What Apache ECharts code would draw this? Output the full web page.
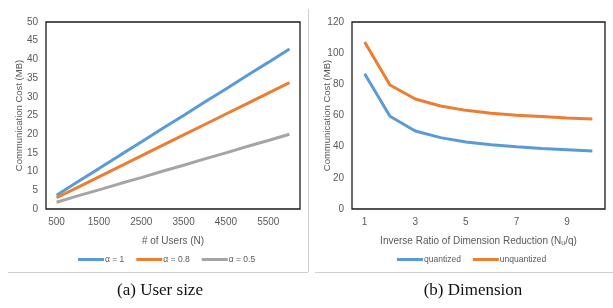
<!DOCTYPE html>
<html>
<head>
<meta charset="utf-8">
<script src="https://cdn.jsdelivr.net/npm/echarts@6/dist/echarts.min.js"></script>
<style>
  html, body { margin: 0; padding: 0; background: #fff; }
  #chart { width: 613px; height: 308px; }
</style>
</head>
<body>
<div id="chart"></div>
<script>
// panel (a): user size
const userCounts = ['500', '1000', '1500', '2000', '2500', '3000', '3500', '4000', '4500', '5000', '5500', '6000']
const alpha1 = [3.7, 7.3, 10.8, 14.4, 17.9, 21.5, 25.0, 28.6, 32.1, 35.7, 39.2, 42.8]
const alpha08 = [3.0, 5.8, 8.6, 11.4, 14.2, 17.0, 19.8, 22.6, 25.4, 28.2, 31.0, 33.8]
const alpha05 = [1.8, 3.5, 5.1, 6.8, 8.4, 10.1, 11.7, 13.4, 15.0, 16.7, 18.3, 20.0]

// panel (b): dimension
const ratios = ['1', '2', '3', '4', '5', '6', '7', '8', '9', '10']
const quantized = [86.8, 59.5, 50.1, 45.8, 43.0, 41.3, 40.0, 38.9, 38.1, 37.2]
const unquantized = [107.2, 79.6, 70.6, 66.1, 63.3, 61.4, 60.1, 59.3, 58.4, 57.8]

const BLUE = '#5B9BD5'
const ORANGE = '#ED7D31'
const GRAY = '#A5A5A5'
const TXT = '#595959'
const FONT = 'Liberation Sans, Arial, sans-serif'

const chart = echarts.init(document.getElementById('chart'))

function xAxisOf (idx, data, name, rich) {
  return {
    type: 'category',
    gridIndex: idx,
    data: data,
    boundaryGap: true,
    name: name,
    nameLocation: 'middle',
    nameGap: 27,
    nameMoveOverlap: false,
    nameTextStyle: { color: TXT, fontSize: 10, fontFamily: FONT, rich: rich },
    axisLine: { show: false },
    axisTick: { show: false },
    axisLabel: { interval: 1, color: TXT, fontSize: 10, fontFamily: FONT, margin: 8 },
    splitLine: { show: false }
  }
}

function yAxisOf (idx, max, step, gap) {
  return {
    type: 'value',
    gridIndex: idx,
    min: 0,
    max: max,
    interval: step,
    name: 'Communication Cost (MB)',
    nameLocation: 'middle',
    nameGap: gap,
    nameMoveOverlap: false,
    nameTextStyle: { color: TXT, fontSize: 9.5, fontFamily: FONT },
    axisLine: { show: false },
    axisTick: { show: false },
    axisLabel: { color: TXT, fontSize: 10, fontFamily: FONT, margin: 8 },
    splitLine: { show: false }
  }
}

function lineOf (name, data, color, idx) {
  return {
    name: name,
    type: 'line',
    data: data,
    xAxisIndex: idx,
    yAxisIndex: idx,
    symbol: 'none',
    lineStyle: { color: color, width: 3 },
    itemStyle: { color: color }
  }
}

const legendBase = {
  top: 250,
  itemWidth: 26,
  itemHeight: 3,
  itemGap: 12,
  icon: 'rect',
  textStyle: { color: TXT, fontSize: 8.5, fontFamily: FONT, padding: [0, 0, 0, -4] }
}

const option = {
  animation: false,
  backgroundColor: '#fff',
  grid: [
    { left: 46, right: 313, top: 22, bottom: 99, show: true, borderColor: '#1a1a1a', borderWidth: 1.3 },
    { left: 352, right: 8, top: 22, bottom: 99, show: true, borderColor: '#1a1a1a', borderWidth: 1.3 }
  ],
  xAxis: [
    xAxisOf(0, userCounts, '# of Users (N)'),
    xAxisOf(1, ratios, 'Inverse Ratio of Dimension Reduction (N{sub|u}/q)', {
      sub: { fontSize: 7, color: TXT, fontFamily: FONT, verticalAlign: 'bottom', padding: [4, 0, 0, 0] }
    })
  ],
  yAxis: [
    yAxisOf(0, 50, 5, 22),
    yAxisOf(1, 120, 20, 20)
  ],
  legend: [
    Object.assign({}, legendBase, { left: 73, data: ['α = 1', 'α = 0.8', 'α = 0.5'] }),
    Object.assign({}, legendBase, { left: 392, data: ['quantized', 'unquantized'] })
  ],
  title: [
    { text: '(a) User size', left: 155, top: 277, textAlign: 'center',
      textStyle: { fontFamily: 'Liberation Serif, Times New Roman, serif', fontSize: 17, fontWeight: 'normal', color: '#111' } },
    { text: '(b) Dimension', left: 468, top: 277, textAlign: 'center',
      textStyle: { fontFamily: 'Liberation Serif, Times New Roman, serif', fontSize: 17, fontWeight: 'normal', color: '#111' } }
  ],
  graphic: [
    { type: 'line', shape: { x1: 308.5, y1: 9, x2: 308.5, y2: 272 }, style: { stroke: '#d0d0d0', lineWidth: 1 } },
    { type: 'line', shape: { x1: 8, y1: 272.5, x2: 308, y2: 272.5 }, style: { stroke: '#d0d0d0', lineWidth: 1 } },
    { type: 'line', shape: { x1: 315, y1: 272.5, x2: 613, y2: 272.5 }, style: { stroke: '#d0d0d0', lineWidth: 1 } }
  ],
  series: [
    lineOf('α = 1', alpha1, BLUE, 0),
    lineOf('α = 0.8', alpha08, ORANGE, 0),
    lineOf('α = 0.5', alpha05, GRAY, 0),
    lineOf('quantized', quantized, BLUE, 1),
    lineOf('unquantized', unquantized, ORANGE, 1)
  ]
}

chart.setOption(option)
</script>
</body>
</html>
